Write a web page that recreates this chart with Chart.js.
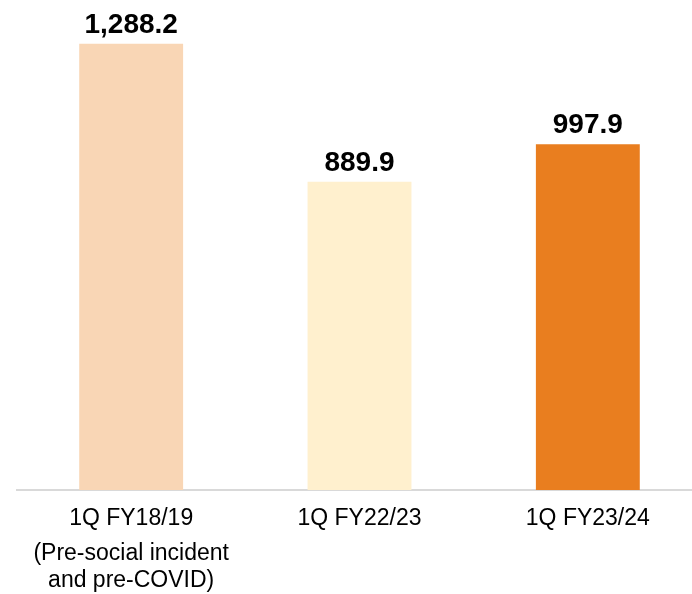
<!DOCTYPE html>
<html>
<head>
<meta charset="utf-8">
<script src="https://cdn.jsdelivr.net/npm/chart.js@4/dist/chart.umd.min.js"></script>
<style>
  html, body { margin: 0; padding: 0; background: #ffffff; overflow: hidden; }
  #wrap { width: 702px; height: 594px; position: relative; }
</style>
</head>
<body>
<div id="wrap"><canvas id="c"></canvas></div>
<script>
const categories = ['1Q FY18/19', '1Q FY22/23', '1Q FY23/24'];
const subLabels = [['(Pre-social incident', 'and pre-COVID)'], '', ''];
const values = [1288.2, 889.9, 997.9];
const barColors = ['#F9D6B5', '#FFF0CE', '#E97E1F'];

const valueLabels = {
  id: 'valueLabels',
  afterDatasetsDraw(chart) {
    const ctx = chart.ctx;
    const meta = chart.getDatasetMeta(0);
    ctx.save();
    ctx.font = 'bold 28px "Liberation Sans", Arial, sans-serif';
    ctx.fillStyle = '#000000';
    ctx.textAlign = 'center';
    ctx.textBaseline = 'alphabetic';
    meta.data.forEach((bar, i) => {
      const v = chart.data.datasets[0].data[i];
      const txt = v.toLocaleString('en-US', { minimumFractionDigits: 1, maximumFractionDigits: 1 });
      ctx.fillText(txt, bar.x, bar.y - 11);
    });
    ctx.restore();
  }
};

new Chart(document.getElementById('c'), {
  type: 'bar',
  data: {
    labels: categories,
    datasets: [{
      data: values,
      backgroundColor: barColors,
      borderWidth: 0,
      barPercentage: 0.455,
      categoryPercentage: 1.0
    }]
  },
  options: {
    responsive: true,
    maintainAspectRatio: false,
    animation: false,
    layout: { padding: { top: 5, left: 17, right: 0, bottom: 0 } },
    plugins: { legend: { display: false }, tooltip: { enabled: false } },
    scales: {
      y: {
        display: false,
        min: 0,
        max: 1400
      },
      x: {
        position: 'bottom',
        grid: { display: false, drawTicks: false },
        border: { display: true, color: '#D9D9D9', width: 2 },
        ticks: {
          color: '#000000',
          font: { family: '"Liberation Sans", Arial, sans-serif', size: 23, lineHeight: 1.2 },
          padding: 15,
          maxRotation: 0,
          autoSkip: false
        },
        afterFit(scale) { scale.height = 42; }
      },
      x2: {
        position: 'bottom',
        type: 'category',
        labels: subLabels,
        offset: true,
        grid: { display: false, drawTicks: false },
        border: { display: false },
        ticks: {
          color: '#000000',
          font: { family: '"Liberation Sans", Arial, sans-serif', size: 23, lineHeight: 1.17 },
          padding: 8.5,
          maxRotation: 0,
          autoSkip: false
        },
        afterFit(scale) { scale.height = 62; }
      }
    }
  },
  plugins: [valueLabels]
});
</script>
</body>
</html>
